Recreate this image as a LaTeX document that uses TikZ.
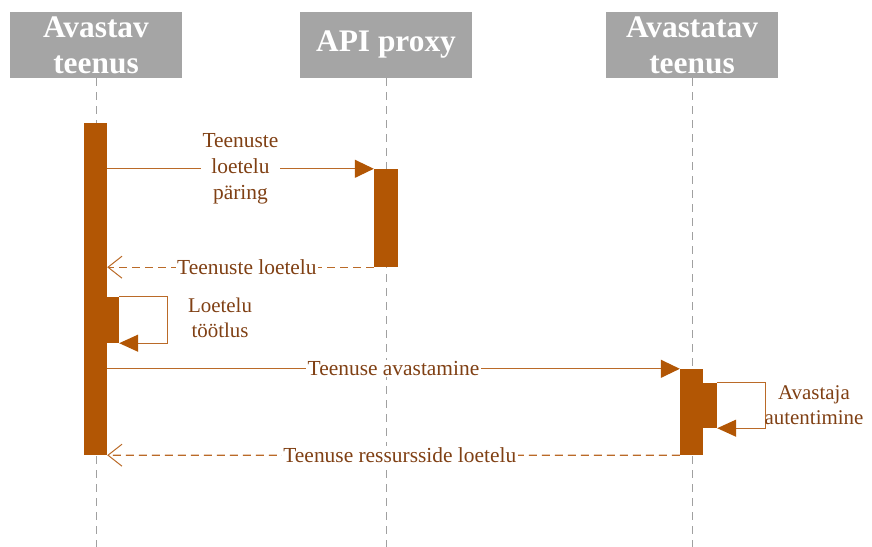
\documentclass[tikz,border=0pt]{standalone}
\usepackage{fontspec}
\setmainfont{Liberation Serif}
\usetikzlibrary{arrows.meta}
\definecolor{hdrgray}{RGB}{165,165,165}
\definecolor{barbrown}{RGB}{178,86,4}
\definecolor{msgline}{RGB}{186,106,40}
\definecolor{msgtext}{RGB}{128,64,20}
\definecolor{lifegray}{RGB}{160,160,160}
\begin{document}
\begin{tikzpicture}[x=1bp,y=-1bp,
  header/.style={fill=hdrgray, minimum width=172bp, minimum height=66bp, inner sep=0pt,
    text=white, font=\fontsize{31.5}{36}\selectfont\bfseries, align=center},
  lifeline/.style={draw=lifegray, line width=0.8bp, dash pattern=on 8bp off 6bp},
  actbar/.style={fill=barbrown, draw=none, inner sep=0pt},
  msg/.style={draw=msgline, line width=1.2bp},
  callmsg/.style={msg, -{Triangle[length=19bp,width=18bp,color=barbrown]}},
  replymsg/.style={msg, dash pattern=on 8bp off 5bp, -{Straight Barb[length=14bp,width=22bp,line width=1bp]}},
  selfmsg/.style={msg, -{Triangle[length=19bp,width=17bp,color=barbrown]}},
  msglabel/.style={fill=white, text=msgtext, font=\fontsize{21.5}{26}\selectfont, align=center, inner sep=1.5bp},
  notelabel/.style={text=msgtext, font=\fontsize{21}{25}\selectfont, align=center, inner sep=0pt}
]
\useasboundingbox (0,0) rectangle (872,547);

% participants
\node[header] (h1) at (96,45)  {Avastav\\teenus};
\node[header] (h2) at (386,45) {API proxy};
\node[header] (h3) at (692,45) {Avastatav\\teenus};

% lifelines
\coordinate (e1) at (96,547);
\coordinate (e2) at (386,547);
\coordinate (e3) at (692,547);
\draw[lifeline] (h1.south) -- (e1);
\draw[lifeline] (h2.south) -- (e2);
\draw[lifeline] (h3.south) -- (e3);

% activation bars
\node[actbar, minimum width=23bp, minimum height=332bp] (bar1) at (95.5,289) {};
\node[actbar, minimum width=24bp, minimum height=98bp]  (bar2) at (386,218) {};
\node[actbar, minimum width=23bp, minimum height=86bp]  (bar3) at (691.5,412) {};
\node[actbar, minimum width=12bp, minimum height=46bp]  (self1) at (113,320) {};
\node[actbar, minimum width=14bp, minimum height=45bp]  (self2) at (710,405.5) {};

% messages
\draw[callmsg] (bar1.east |- bar2.north) -- node[msglabel] {Teenuste\\loetelu\\päring} (bar2.north west);
\draw[replymsg] (bar2.south west) -- node[msglabel, pos=0.476] {Teenuste loetelu} (bar1.east |- bar2.south);
\draw[callmsg] (bar1.east |- bar3.north) -- node[msglabel] {Teenuse avastamine} (bar3.north west);
\draw[replymsg] (bar3.south west) -- node[msglabel, pos=0.489] {Teenuse ressursside loetelu} (bar1.south east);

% self calls
\draw[selfmsg] (self1.north east) -- ++(48,0) |- (self1.south east);
\draw[selfmsg] (self2.north east) -- ++(48,0) |- (self2.south east);
\node[notelabel] (n1) at (220,318) {Loetelu\\töötlus};
\node[notelabel] (n2) at (814,405) {Avastaja\\autentimine};
\end{tikzpicture}
\end{document}
